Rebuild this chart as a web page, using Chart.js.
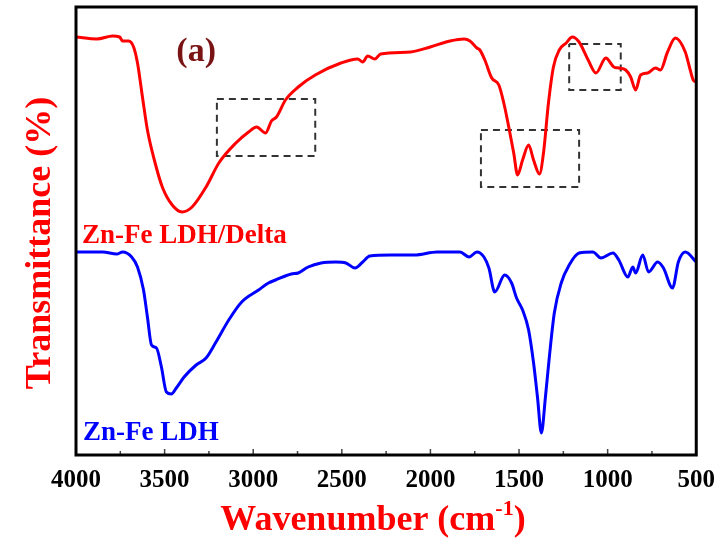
<!DOCTYPE html>
<html>
<head>
<meta charset="utf-8">
<script src="https://cdn.jsdelivr.net/npm/chart.js@4.4.1/dist/chart.umd.min.js"></script>
<style>
  html, body { margin: 0; padding: 0; background: #fff; }
  #wrap { width: 726px; height: 544px; }
</style>
</head>
<body>
<div id="wrap"><canvas id="chart" width="726" height="544"></canvas></div>
<script>
// ---- data (wavenumber in cm-1, transmittance in arbitrary units) ----
const redWn = [4000, 3882, 3793, 3754, 3737, 3703, 3675, 3653, 3625, 3597,
  3558, 3513, 3457, 3401, 3345, 3266, 3194, 3098, 3026, 2981,
  2930, 2897, 2869, 2818, 2746, 2650, 2505, 2410, 2382, 2354,
  2314, 2281, 2113, 2001, 1889, 1810, 1777, 1738, 1721, 1693,
  1654, 1614, 1586, 1558, 1530, 1508, 1480, 1446, 1418, 1385,
  1362, 1334, 1306, 1273, 1234, 1200, 1161, 1110, 1066, 1010,
  965, 937, 898, 870, 842, 814, 775, 730, 702, 662,
  618, 562, 534, 517, 500];
const redT = [418, 416, 419, 418, 414, 414, 408, 392, 358, 325,
  295, 268, 250, 243, 248, 268, 292, 312, 323, 328,
  322, 334, 338, 355, 368, 380, 392, 396, 393, 399,
  396, 401, 403, 408, 414, 416, 414, 407, 405, 395,
  377, 370, 352, 328, 302, 280, 295, 310, 295, 281,
  302, 352, 388, 405, 412, 418, 413, 395, 382, 397,
  388, 387, 385, 378, 365, 380, 382, 387, 385, 403,
  417, 403, 385, 375, 373];

const blueWn = [4000, 3849, 3770, 3737, 3686, 3653, 3619, 3597, 3574, 3546,
  3518, 3490, 3462, 3434, 3390, 3322, 3266, 3210, 3138, 3065,
  2970, 2914, 2874, 2785, 2746, 2690, 2617, 2533, 2477, 2426,
  2382, 2342, 2225, 2090, 1962, 1833, 1782, 1738, 1698, 1670,
  1637, 1581, 1542, 1514, 1480, 1446, 1418, 1396, 1374, 1351,
  1329, 1301, 1262, 1217, 1161, 1083, 1038, 970, 937, 886,
  858, 842, 802, 769, 718, 685, 634, 601, 562, 500];
const blueT = [203, 203, 201, 203, 198, 188, 165, 138, 110, 107,
  88, 63, 61, 67, 78, 90, 97, 113, 135, 153,
  165, 172, 175, 181, 182, 188, 192, 193, 192, 187,
  193, 199, 200, 200, 203, 203, 198, 203, 198, 187,
  163, 180, 172, 157, 145, 125, 92, 58, 22, 58,
  98, 142, 172, 190, 202, 203, 197, 202, 195, 178,
  188, 182, 200, 183, 193, 187, 167, 193, 203, 193];

// dashed highlight boxes
const boxLeft = [3205, 1715, 1217];
const boxRight = [2650, 1161, 926];
const boxTop = [356, 325, 411];
const boxBottom = [299, 268, 365];

const xMin = 500, xMax = 4000, xStep = 500, xMinor = 250;
const yMin = 0, yMax = 448;

// text labels placed in data units
const panelLabel = { text: "(a)", x: 3322, y: 394 };
const seriesLabels = [
  { text: "Zn-Fe LDH/Delta", x: 3966, y: 212, color: "#ff0000" },
  { text: "Zn-Fe LDH", x: 3961, y: 15, color: "#0000ff" }
];

const SERIF = "'Liberation Serif', 'Times New Roman', serif";

function toPoints(xs, ys) {
  return xs.map((x, i) => ({ x: x, y: ys[i] }));
}

const boxSets = boxLeft.map((l, i) => ({
  label: "box" + i,
  data: [
    { x: l, y: boxTop[i] }, { x: boxRight[i], y: boxTop[i] },
    { x: boxRight[i], y: boxBottom[i] }, { x: l, y: boxBottom[i] },
    { x: l, y: boxTop[i] }
  ],
  borderColor: "#333333",
  borderWidth: 2,
  borderDash: [7, 5],
  pointRadius: 0,
  tension: 0,
  fill: false
}));

// ---- frame, inward ticks, titles, labels ----
const decor = {
  id: "decor",
  afterDraw(chart) {
    const ctx = chart.ctx;
    const a = chart.chartArea;
    const xs = chart.scales.x;
    const ys = chart.scales.y;
    ctx.save();

    // inward ticks on the bottom axis
    ctx.strokeStyle = "#444";
    ctx.lineWidth = 1.5;
    for (let v = xMin; v <= xMax; v += xMinor) {
      const px = xs.getPixelForValue(v);
      const len = (v % xStep === 0) ? 6 : 4;
      ctx.beginPath();
      ctx.moveTo(px, a.bottom);
      ctx.lineTo(px, a.bottom - len);
      ctx.stroke();
    }

    // frame
    ctx.strokeStyle = "#000";
    ctx.lineWidth = 3;
    ctx.strokeRect(a.left, a.top, a.right - a.left, a.bottom - a.top);

    // panel label
    ctx.font = "bold 34px " + SERIF;
    ctx.fillStyle = "#7a1414";
    ctx.textAlign = "center";
    ctx.textBaseline = "alphabetic";
    ctx.fillText(panelLabel.text, xs.getPixelForValue(panelLabel.x), ys.getPixelForValue(panelLabel.y));

    // series labels
    ctx.font = "bold 27px " + SERIF;
    ctx.textAlign = "left";
    seriesLabels.forEach(s => {
      ctx.fillStyle = s.color;
      ctx.fillText(s.text, xs.getPixelForValue(s.x), ys.getPixelForValue(s.y));
    });

    // y title
    ctx.fillStyle = "#ff0000";
    ctx.font = "bold 36px " + SERIF;
    ctx.save();
    ctx.translate(50, (a.top + a.bottom) / 2 + 12);
    ctx.rotate(-Math.PI / 2);
    ctx.textAlign = "center";
    ctx.fillText("Transmittance (%)", 0, 0);
    ctx.restore();

    // x title with superscript
    const main = "Wavenumber (cm";
    const sup = "-1";
    const close = ")";
    ctx.font = "bold 36px " + SERIF;
    const w1 = ctx.measureText(main).width;
    const w3 = ctx.measureText(close).width;
    ctx.font = "bold 22px " + SERIF;
    const w2 = ctx.measureText(sup).width;
    const total = w1 + w2 + w3;
    let x0 = 373 - total / 2;
    const base = 530;
    ctx.textAlign = "left";
    ctx.font = "bold 36px " + SERIF;
    ctx.fillText(main, x0, base);
    ctx.font = "bold 22px " + SERIF;
    ctx.fillText(sup, x0 + w1, base - 15);
    ctx.font = "bold 36px " + SERIF;
    ctx.fillText(close, x0 + w1 + w2, base);

    ctx.restore();
  }
};

new Chart(document.getElementById("chart"), {
  type: "line",
  data: {
    datasets: [
      {
        label: "Zn-Fe LDH/Delta",
        data: toPoints(redWn, redT),
        borderColor: "#ff0000",
        borderWidth: 3,
        pointRadius: 0,
        cubicInterpolationMode: "monotone",
        fill: false
      },
      {
        label: "Zn-Fe LDH",
        data: toPoints(blueWn, blueT),
        borderColor: "#0000ff",
        borderWidth: 3,
        pointRadius: 0,
        cubicInterpolationMode: "monotone",
        fill: false
      },
      ...boxSets
    ]
  },
  options: {
    responsive: false,
    animation: false,
    layout: { padding: { top: 7, right: 25, left: 0, bottom: 0 } },
    plugins: {
      legend: { display: false },
      tooltip: { enabled: false }
    },
    scales: {
      x: {
        type: "linear",
        reverse: true,
        min: xMin,
        max: xMax,
        afterFit: (s) => { s.height = 89; },
        grid: { display: false, drawTicks: false },
        border: { display: false },
        ticks: {
          stepSize: xStep,
          padding: 11,
          color: "#000",
          font: { family: SERIF, size: 25, weight: "bold" },
          maxRotation: 0,
          autoSkip: false,
          callback: (v) => String(v)
        }
      },
      y: {
        type: "linear",
        min: yMin,
        max: yMax,
        afterFit: (s) => { s.width = 76; },
        grid: { display: false, drawTicks: false },
        border: { display: false },
        ticks: { display: false }
      }
    }
  },
  plugins: [decor]
});
</script>
</body>
</html>
